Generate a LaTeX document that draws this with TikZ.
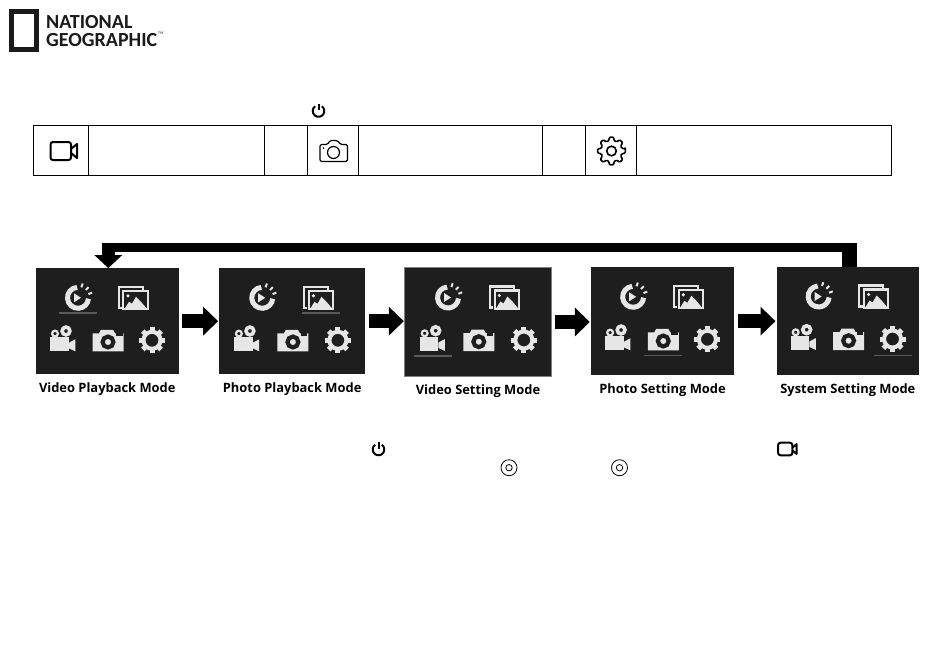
\documentclass[tikz,border=0pt]{standalone}
\usepackage{fontspec}
\setsansfont{Open Sans}
\newfontfamily\logofont{Carlito}
\usetikzlibrary{positioning,arrows.meta}

\definecolor{screendark}{HTML}{1E1E1E}
\definecolor{iconlight}{HTML}{E6E6E6}
\definecolor{logoblack}{HTML}{1A1A1A}

\tikzset{
	screen/.style={fill=screendark, inner sep=0pt},
	caption/.style={font=\sffamily\bfseries\fontsize{12.9}{14}\selectfont, text=black, inner sep=0pt},
	logotext/.style={anchor=west, align=left, inner sep=0pt, font=\logofont\bfseries\fontsize{20}{18}\selectfont, text=logoblack},
	stepflow/.style={line width=14pt, -{Triangle[length=15pt,width=28pt]}, shorten <=3.5pt, shorten >=1pt},
	backtip/.style={line width=13pt, -{Triangle[length=13pt,width=27pt]}},
	tablecell/.style={line width=0.9pt},
	% icons of the table and the text lines
	powericon/.pic={
		\draw[line width=2pt] (-55:5.8) arc[start angle=-55,end angle=235,radius=5.8];
		\draw[line width=2pt] (0,-7.5) -- (0,-1);
	},
	targeticon/.pic={
		\draw[line width=0.8pt] (0,0) circle[radius=8];
		\draw[line width=0.8pt] (0,0) circle[radius=3.2];
	},
	videoicon/.pic={
		\draw[line width=2pt, rounded corners=2.5pt] (-13.5,-9) rectangle (7,9);
		\draw[line width=2pt, line join=round] (7,-2) -- (13,-7) -- (13,7) -- (7,2);
	},
	photoicon/.pic={
		\draw[line width=1.2pt, line join=round, rounded corners=1.5pt] (-13.5,-6.5) -- (-6,-6.5) -- (-3.5,-10.5) -- (4,-10.5) -- (7,-6.5) -- (14,-6.5) -- (14,10.5) -- (-13.5,10.5) -- cycle;
		\draw[line width=1.2pt] (0,1.5) circle[radius=6];
		\fill (-10,-3) circle[radius=0.8];
	},
	gearicon/.pic={
		\draw[line width=1.6pt, line join=round, rounded corners=1pt]
			(-8:14) \foreach \t in {0,45,...,315} {
				-- (\t-8:14) -- (\t+8:14) -- (\t+16:10.5) -- (\t+29:10.5)
			} -- cycle;
		\draw[line width=1.6pt] (0,0) circle[radius=4.8];
	},
	% icons inside the camera screens
	replayscreen/.pic={
		\draw[iconlight, line width=5pt] (-95:10.5) arc[start angle=-95,end angle=-355,radius=10.5];
		\foreach \t in {-72,-45,-20} {
			\draw[iconlight, line width=2pt] (\t:11) -- (\t:15);
		}
		\fill[iconlight] (-4,-4.5) -- (3,0) -- (-4,4.5) -- cycle;
	},
	galleryscreen/.pic={
		\draw[iconlight, line width=2.2pt] (-14.3,-11) rectangle (9.7,10);
		\fill[screendark] (-11,-8.2) rectangle (16,12.7);
		\draw[iconlight, line width=2.2pt] (-9.7,-7) rectangle (14.7,11.5);
		\fill[iconlight] (-8,10.5) -- (-4,4) -- (-1,6) -- (3,-1) -- (8,4) -- (13.5,10.5) -- cycle;
		\fill[iconlight] (-5,-2) circle[radius=1.8];
	},
	moviescreen/.pic={
		\fill[iconlight] (-13,-3) rectangle (5.7,11);
		\fill[iconlight] (5.7,2.5) -- (12.3,-1) -- (12.3,11) -- (5.7,8) -- cycle;
		\draw[iconlight, line width=2.2pt] (-8,-6.7) circle[radius=2.9];
		\draw[iconlight, line width=3.6pt] (3,-9.3) circle[radius=3.9];
	},
	camerascreen/.pic={
		\fill[iconlight] (-15.5,-7) -- (-9,-7) -- (-7,-10.5) -- (5,-10.5) -- (7,-7) -- (15.5,-7) -- (15.5,11) -- (-15.5,11) -- cycle;
		\draw[screendark, line width=4.2pt] (0,1.7) circle[radius=5.4];
		\fill[screendark] (8,-7) rectangle (14.5,-4.5);
	},
	gearscreen/.pic={
		\draw[iconlight, line width=4pt] (0,0) circle[radius=8.5];
		\foreach \t in {0,45,...,315} {
			\draw[iconlight, line width=5pt] (\t:9) -- (\t:13);
		}
	},
}

\begin{document}
\begin{tikzpicture}[x=1pt,y=-1pt]
\useasboundingbox (0,0) rectangle (950,662);

% logo
\draw[logoblack, line width=4.5pt] (11.6,11.6) rectangle (36.4,49.4);
\node[logotext] (logname) at (46,31) {NATIONAL\\GEOGRAPHIC};
\node[anchor=west, inner sep=0pt, font=\logofont\fontsize{4}{5}\selectfont, text=logoblack] (logtm) at (158,33) {TM};

% table
\foreach \xa/\xb in {33.5/88.5,88.5/264.5,264.5/307.5,307.5/358.5,358.5/542.5,542.5/585.5,585.5/636.5,636.5/891.5} {
	\draw[tablecell] (\xa,125.5) rectangle (\xb,175.5);
}
\pic at (318.5,111) {powericon};
\pic at (64,151) {videoicon};
\pic at (333.5,151) {photoicon};
\pic at (611.5,151) {gearicon};

% screens
\foreach \name/\xa/\ya/\xb/\yb/\ux/\uy/\label in {
	vidplay/36/268.3/178.5/374/42/44.5/Video Playback Mode,
	phoplay/219.3/268.3/365/374/99/44.5/Photo Playback Mode,
	vidset/405/268/551/376/27/88/Video Setting Mode,
	phoset/591/267.3/734/375/72/88/Photo Setting Mode,
	sysset/776.7/267/919/375/116.5/88.5/System Setting Mode} {
	\pgfmathsetmacro\fx{(\xb-\xa)/142.5}
	\node[screen, minimum width=\xb pt-\xa pt, minimum height=\yb pt-\ya pt] (\name) at ({(\xa+\xb)/2},{(\ya+\yb)/2}) {};
	\node[caption, below=8pt of \name] (\name cap) {\label};
	\pic at (\xa+42*\fx,\ya+29.5) {replayscreen};
	\pic at (\xa+97*\fx,\ya+29.5) {galleryscreen};
	\pic at (\xa+27*\fx,\ya+72) {moviescreen};
	\pic at (\xa+72*\fx,\ya+72) {camerascreen};
	\pic at (\xa+116*\fx,\ya+72) {gearscreen};
	\draw[gray!70!black, line width=1.6pt] (\xa+\ux*\fx-19,\ya+\uy) -- (\xa+\ux*\fx+19,\ya+\uy);
}
\draw[gray, line width=0.8pt] (vidset.north west) rectangle (vidset.south east);

% arrows between the screens
\foreach \a/\b in {vidplay/phoplay,phoplay/vidset,vidset/phoset,phoset/sysset} {
	\draw[stepflow, yshift=1pt] (\a.east) -- (\b.west |- \a.east);
}

% way back to the first screen
\coordinate (backright) at (849.5,243);
\coordinate (backleft) at (108.3,243);
\coordinate (barright) at (857,247.5);
\coordinate (barleft) at (101.8,247.5);
\draw[line width=15pt] (sysset.north -| backright) -- (backright);
\draw[line width=9.5pt] (barright) -- (barleft);
\draw[backtip] (backleft) -- (vidplay.north -| backleft);

% icons of the text lines
\pic at (378.5,449.5) {powericon};
\pic[scale=0.7] at (787.5,449) {videoicon};
\pic at (509,467.7) {targeticon};
\pic at (619.5,467.7) {targeticon};
\end{tikzpicture}
\end{document}
